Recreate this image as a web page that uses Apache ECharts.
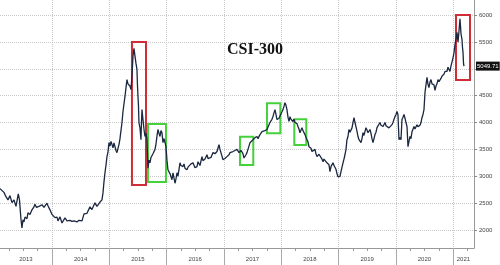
<!DOCTYPE html>
<html><head><meta charset="utf-8">
<script src="https://cdn.jsdelivr.net/npm/echarts@6/dist/echarts.min.js"></script>
<style>html,body{margin:0;padding:0;background:#fff}#c{width:500px;height:265px}</style>
</head><body><div id="c"></div>
<script>
const chartTitle = 'CSI-300';
// decimal-year dates and closing values
const dates = [
2013.093,2013.127,2013.162,2013.197,2013.232,2013.267,2013.302,2013.337,2013.372,2013.389,2013.412,2013.433,2013.459,2013.476,2013.494,2013.511,2013.529,2013.564,2013.581,2013.616,2013.651,2013.686,2013.703,2013.730,2013.756,2013.791,2013.826,2013.860,2013.878,2013.913,2013.930,2013.965,
2014.000,2014.018,2014.052,2014.087,2014.105,2014.140,2014.175,2014.192,2014.227,2014.262,2014.279,2014.314,2014.349,2014.384,2014.436,2014.471,2014.524,2014.559,2014.576,2014.611,2014.663,2014.698,2014.750,2014.785,2014.803,2014.838,2014.873,2014.890,2014.908,2014.925,2014.942,2014.960,2014.977,2014.995,
2015.012,2015.030,2015.047,2015.065,2015.082,2015.100,2015.117,2015.134,2015.152,2015.169,2015.187,2015.204,2015.222,2015.239,2015.257,2015.274,2015.292,2015.309,2015.326,2015.344,2015.361,2015.379,2015.396,2015.414,2015.431,2015.449,2015.466,2015.483,2015.492,2015.501,2015.510,2015.518,2015.536,2015.553,2015.562,2015.571,2015.588,2015.606,2015.623,2015.641,2015.658,2015.675,2015.693,2015.710,2015.728,2015.745,2015.763,2015.798,2015.815,2015.833,2015.850,2015.867,2015.885,2015.902,2015.920,2015.937,2015.955,2015.972,2015.990,
2016.007,2016.024,2016.059,2016.094,2016.112,2016.147,2016.164,2016.182,2016.199,2016.234,2016.251,2016.286,2016.304,2016.321,2016.356,2016.374,2016.408,2016.426,2016.461,2016.496,2016.531,2016.548,2016.565,2016.583,2016.618,2016.635,2016.670,2016.705,2016.723,2016.757,2016.775,2016.810,2016.845,2016.880,2016.915,2016.932,2016.949,2016.984,
2017.019,2017.054,2017.089,2017.107,2017.141,2017.159,2017.194,2017.229,2017.246,2017.264,2017.298,2017.316,2017.333,2017.351,2017.386,2017.403,2017.438,2017.456,2017.490,2017.508,2017.543,2017.578,2017.595,2017.630,2017.665,2017.682,2017.717,2017.752,2017.787,2017.805,2017.839,2017.857,2017.874,2017.892,2017.909,2017.927,2017.962,2017.979,
2018.014,2018.031,2018.049,2018.066,2018.084,2018.101,2018.119,2018.136,2018.154,2018.171,2018.206,2018.223,2018.241,2018.276,2018.293,2018.311,2018.328,2018.363,2018.380,2018.415,2018.450,2018.468,2018.485,2018.520,2018.538,2018.572,2018.590,2018.607,2018.625,2018.660,2018.677,2018.712,2018.730,2018.747,2018.764,2018.799,2018.817,2018.834,2018.852,2018.869,2018.904,2018.922,2018.956,2018.974,2018.991,
2019.009,2019.026,2019.044,2019.079,2019.096,2019.113,2019.131,2019.148,2019.166,2019.183,2019.201,2019.218,2019.236,2019.253,2019.271,2019.288,2019.305,2019.323,2019.340,2019.358,2019.375,2019.393,2019.410,2019.428,2019.445,2019.480,2019.497,2019.515,2019.550,2019.567,2019.585,2019.602,2019.620,2019.637,2019.655,2019.672,2019.689,2019.724,2019.742,2019.777,2019.794,2019.812,2019.829,2019.846,2019.881,2019.899,2019.934,2019.951,2019.969,2019.986,
2020.004,2020.021,2020.038,2020.056,2020.073,2020.091,2020.108,2020.126,2020.143,2020.161,2020.178,2020.196,2020.213,2020.230,2020.248,2020.265,2020.283,2020.300,2020.318,2020.335,2020.370,2020.387,2020.405,2020.422,2020.440,2020.457,2020.475,2020.492,2020.510,2020.527,2020.545,2020.562,2020.579,2020.597,2020.614,2020.632,2020.649,2020.667,2020.684,2020.702,2020.719,2020.737,2020.754,2020.771,2020.789,2020.806,2020.824,2020.841,2020.859,2020.876,2020.894,2020.911,2020.928,2020.946,2020.963,2020.981,2020.998,
2021.016,2021.033,2021.051,2021.059,2021.068,2021.086,2021.103,2021.120,2021.129,2021.138,2021.155,2021.164,2021.173,2021.182,2021.190
];
const closes = [
2770,2740,2700,2620,2560,2640,2510,2560,2440,2470,2670,2560,2200,2040,2190,2150,2240,2210,2320,2290,2375,2430,2480,2420,2410,2450,2470,2420,2430,2500,2450,2375,
2290,2310,2230,2240,2170,2245,2130,2160,2225,2170,2150,2180,2160,2170,2150,2180,2170,2300,2336,2310,2430,2380,2505,2440,2410,2520,2560,2690,2900,3065,3200,3365,3450,3625,
3560,3650,3680,3530,3620,3590,3480,3440,3520,3590,3700,3850,4000,4200,4350,4485,4650,4800,4720,4750,4680,4615,4860,5235,5380,5235,5100,4990,4700,4485,4300,4000,3900,3680,4000,4240,4055,3870,3740,3800,3680,3150,3300,3250,3350,3365,3420,3500,3600,3750,3870,3800,3740,3850,3810,3625,3700,3700,3550,
3300,3120,3050,2935,3065,2870,2950,3065,3000,3250,3200,3180,3230,3150,3120,3170,3180,3230,3250,3160,3180,3270,3240,3200,3365,3290,3320,3400,3330,3310,3350,3440,3420,3460,3590,3500,3440,3310,
3330,3365,3400,3440,3420,3460,3480,3500,3470,3440,3480,3500,3420,3340,3400,3440,3560,3625,3660,3680,3720,3740,3700,3775,3830,3810,3850,3870,3960,4000,4060,4110,4180,4240,4150,4055,4080,4110,
4200,4240,4300,4370,4320,4240,4100,4020,4110,4060,4020,4060,4000,3980,3925,3880,3810,3905,3850,3775,3680,3640,3550,3520,3460,3480,3500,3420,3365,3410,3400,3320,3270,3320,3345,3250,3250,3215,3085,3180,3250,3200,3130,3050,2990,
2960,3000,3085,3250,3320,3400,3500,3680,3740,3870,3820,3810,3900,4000,4090,4000,3925,3840,3740,3680,3650,3625,3700,3810,3760,3905,3860,3810,3870,3800,3700,3625,3700,3775,3820,3905,3880,4000,3950,3925,3960,4000,3940,3960,3900,3905,3960,4000,4060,4110,
4150,4205,4150,3680,3720,3680,4055,4100,4150,4080,4000,3925,3550,3650,3740,3700,3830,3800,3925,3880,3960,3920,3905,3950,4000,4090,4150,4240,4560,4700,4840,4710,4650,4750,4800,4720,4750,4700,4600,4680,4720,4800,4760,4750,4820,4860,4830,4900,4950,4980,4950,5030,5000,4950,5050,5085,5200,
5300,5450,5550,5620,5680,5495,5700,5930,5800,5650,5550,5400,5310,5100,5049.71
];
const lastValue = 5049.71;
const yTicks = [2000,2500,3000,3500,4000,4500,5000,5500,6000];
const yLabels = [2000,2500,3000,3500,4000,4500,5500,6000];
const yearStarts = [2014,2015,2016,2017,2018,2019,2020,2021];
const yearLabelPos = [2013.546,2014.5,2015.5,2016.5,2017.5,2018.5,2019.5,2020.5,2021.18];
const yearLabels = ['2013','2014','2015','2016','2017','2018','2019','2020','2021'];
const xRange = [2013.093, 2021.365];
const yRange = [1665, 6280];
// highlighted periods: date spans and value spans
const boxDates = [[2015.396,2015.641],[2015.675,2015.990],[2017.281,2017.513],[2017.752,2017.985],[2018.229,2018.438],[2021.051,2021.295]];
const boxValues = [[2837,5497],[2893,3972],[3209,3735],[3799,4357],[3581,4059],[4790,6000]];
const boxKinds = ['red','green','green','green','green','red'];

const kindColor = {red:'#cf2e38', green:'#45d13c'};
const quarterTicks = [];
for (let y = 2013; y <= 2021; y++) {
  [0.25,0.5,0.75].forEach(q => { const v = y + q; if (v > xRange[0] && v < xRange[1]) quarterTicks.push(v); });
}
const data = dates.map((d,i) => [d, closes[i]]);
const areas = boxDates.map((bd,i) => [
  {xAxis: bd[0], yAxis: boxValues[i][1], itemStyle:{color:'rgba(0,0,0,0)', borderColor: kindColor[boxKinds[i]], borderWidth: 2}},
  {xAxis: bd[1], yAxis: boxValues[i][0]}
]);
const font = 'Liberation Sans';
const chart = echarts.init(document.getElementById('c'), null, {renderer:'canvas'});
chart.setOption({
  animation: false,
  backgroundColor: '#ffffff',
  title: {text: chartTitle, left: 227, top: 42, padding: 0,
    textStyle: {fontFamily: 'Liberation Serif', fontSize: 16, fontWeight: 'bold', color: '#111'}},
  grid: {left: 0, right: 26, top: 0, bottom: 17, containLabel: false, outerBoundsMode: 'none'},
  xAxis: [{
    type: 'value', min: xRange[0], max: xRange[1], position: 'bottom',
    axisLine: {show: true, lineStyle: {color: '#999', width: 1}},
    axisTick: {show: true, customValues: yearStarts, length: 17, lineStyle: {color: '#aaa', width: 1}},
    splitLine: {show: true, lineStyle: {color: '#c9c9c9', type: 'dotted', width: 1}},
    axisLabel: {show: true, customValues: yearLabelPos, margin: 8, fontSize: 6, fontFamily: font, color: '#444',
      formatter: v => yearLabels[yearLabelPos.indexOf(v)] || ''}
  }, {
    type: 'value', min: xRange[0], max: xRange[1], position: 'bottom',
    axisLine: {show: false},
    axisTick: {show: true, customValues: quarterTicks, length: 3, lineStyle: {color: '#999', width: 1}},
    splitLine: {show: false},
    axisLabel: {show: false}
  }],
  yAxis: {
    type: 'value', position: 'right', min: yRange[0], max: yRange[1],
    axisLine: {show: true, lineStyle: {color: '#999', width: 1}},
    axisTick: {show: true, customValues: yTicks, length: 3, lineStyle: {color: '#888'}},
    splitLine: {show: true, lineStyle: {color: '#c9c9c9', type: 'dotted', width: 1}},
    axisLabel: {show: true, customValues: yLabels.concat([lastValue]), margin: 2, fontSize: 6, fontFamily: font, color: '#444',
      formatter: v => v === lastValue ? '{tag|' + v.toFixed(2) + '}' : '{num|' + v + '}',
      rich: {
        tag: {backgroundColor: '#111', color: '#fff', fontSize: 6, fontFamily: font, padding: [2,1,1,1]},
        num: {color: '#444', fontSize: 6, fontFamily: font, padding: [0,0,0,3]}
      }}
  },
  series: [{
    type: 'line', xAxisIndex: 0, data: data, showSymbol: false, sampling: 'none',
    lineStyle: {color: '#1a2740', width: 1.3},
    markArea: {silent: true, data: areas}
  }]
});
</script></body></html>
